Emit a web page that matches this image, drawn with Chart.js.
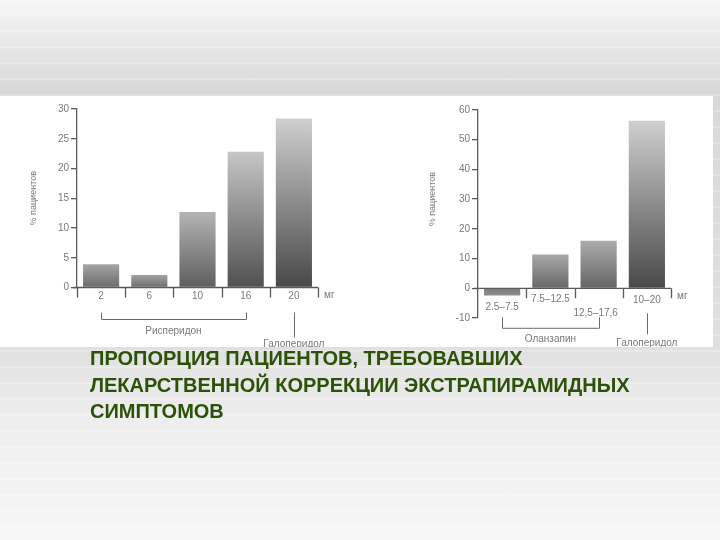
<!DOCTYPE html>
<html lang="ru">
<head>
<meta charset="utf-8">
<script src="https://cdn.jsdelivr.net/npm/chart.js@4/dist/chart.umd.min.js"></script>
<style>
  html, body { margin: 0; padding: 0; }
  body {
    width: 720px; height: 540px; position: relative; overflow: hidden;
    background:
      repeating-linear-gradient(to bottom, rgba(255,255,255,0) 0px, rgba(255,255,255,0) 14px, rgba(255,255,255,0.25) 14px, rgba(255,255,255,0.25) 16px),
      linear-gradient(to bottom, #f6f6f6 0px, #d8d8d8 92px, #e0e0e0 350px, #eeeeee 420px, #f7f7f7 540px);
  }
  #panel { position: absolute; left: 0; top: 96px; width: 713px; height: 251px; background: #ffffff; }
  #c1 { position: absolute; left: 0; top: 96px; }
  #c2 { position: absolute; left: 400px; top: 96px; }
  #title {
    position: absolute; left: 90px; top: 345px; width: 625px;
    font-family: "Liberation Sans", Arial, sans-serif; font-weight: bold;
    font-size: 20px; line-height: 26.5px; color: #2b5208;
  }
</style>
</head>
<body>
<div id="panel"></div>
<canvas id="c1" width="360" height="251"></canvas>
<canvas id="c2" width="313" height="251"></canvas>
<div id="title">ПРОПОРЦИЯ ПАЦИЕНТОВ, ТРЕБОВАВШИХ<br>ЛЕКАРСТВЕННОЙ КОРРЕКЦИИ ЭКСТРАПИРАМИДНЫХ<br>СИМПТОМОВ</div>
<script>
// ---- data ----
const leftDoses = ["2", "6", "10", "16", "20"];
const leftValues = [3.9, 2.1, 12.7, 22.8, 28.4];
const leftTicks = [0, 5, 10, 15, 20, 25, 30];
const leftGroupNames = ["Рисперидон", "Галоперидол"];
const leftGroupStart = [0, 4];
const leftGroupEnd = [3, 4];

const rightDoses = ["2.5–7.5", "7.5–12.5", "12,5–17,6", "10–20"];
const rightValues = [-2.4, 11.4, 16.0, 56.4];
const rightTicks = [-10, 0, 10, 20, 30, 40, 50, 60];
const rightGroupNames = ["Оланзапин", "Галоперидол"];
const rightGroupStart = [0, 3];
const rightGroupEnd = [2, 3];

const yTitle = "% пациентов";
const unitLabel = "мг";

const FONT = "'Liberation Sans', Arial, sans-serif";
const TXT = "#7a7a7a";
const AX = "#5a5a5a";

function barFill(ctx) {
  const chart = ctx.chart;
  if (!chart.chartArea) return "#888";
  const y = chart.scales.y;
  const v = ctx.raw;
  const top = y.getPixelForValue(v), base = y.getPixelForValue(0);
  const g = chart.ctx.createLinearGradient(0, Math.min(top, base), 0, Math.max(top, base));
  if (v < 0) {
    g.addColorStop(0, "#7c7c7c"); g.addColorStop(1, "#8c8c8c");
    return g;
  }
  const frac = v / y.max;
  const t = Math.round(158 + 52 * frac), b = Math.round(112 - 42 * frac);
  g.addColorStop(0, `rgb(${t},${t},${t})`);
  g.addColorStop(1, `rgb(${b},${b},${b})`);
  return g;
}

const axisDecor = {
  id: "axisDecor",
  afterDraw(chart, args, o) {
    const c = chart.ctx, x = chart.scales.x, y = chart.scales.y;
    const y0 = y.getPixelForValue(0);
    const n = chart.data.labels.length;
    const half = (x.getPixelForValue(1) - x.getPixelForValue(0)) / 2;
    c.save();
    c.strokeStyle = AX; c.lineWidth = 1.3;
    c.beginPath();
    c.moveTo(chart.chartArea.left - 4, y0); c.lineTo(chart.chartArea.right, y0);
    for (let i = 0; i <= n; i++) {
      if (i === 0 && o.skipFirstTick) continue;
      const px = Math.round(x.getPixelForValue(0) - half + i * 2 * half) + 0.5;
      c.moveTo(px, y0); c.lineTo(px, y0 + 10);
    }
    c.stroke();
    c.fillStyle = TXT; c.font = "10px " + FONT; c.textAlign = "center"; c.textBaseline = "middle";
    chart.data.labels.forEach((lab, i) => {
      c.fillText(lab, x.getPixelForValue(i) + (o.labelDx[i] || 0), y0 + o.labelDy[i]);
    });
    c.textAlign = "left";
    c.fillText(unitLabel, chart.chartArea.right + 6, y0 + 8);
    c.save();
    c.translate(o.titleX, (chart.chartArea.top + y0) / 2);
    c.rotate(-Math.PI / 2);
    c.textAlign = "center"; c.font = "9px " + FONT;
    c.fillText(yTitle, 0, 0);
    c.restore();
    c.strokeStyle = "#6a6a6a"; c.lineWidth = 1;
    o.groups.names.forEach((name, k) => {
      const a = x.getPixelForValue(o.groups.start[k]);
      const b = x.getPixelForValue(o.groups.end[k]);
      c.beginPath();
      if (a === b) {
        const px = Math.round(a) + 0.5;
        c.moveTo(px, y0 + o.singleTop); c.lineTo(px, y0 + o.singleBottom);
        c.stroke();
        c.textAlign = "center";
        c.fillText(name, a, y0 + o.singleLabel);
      } else {
        const pa = Math.round(a) + 0.5, pb = Math.round(b) + 0.5;
        c.moveTo(pa, y0 + o.bracketTop); c.lineTo(pa, y0 + o.bracketY);
        c.lineTo(pb, y0 + o.bracketY); c.lineTo(pb, y0 + o.bracketTop);
        c.stroke();
        c.textAlign = "center";
        c.fillText(name, (a + b) / 2, y0 + o.bracketLabel);
      }
    });
    c.restore();
  }
};

function makeChart(id, labels, values, ticks, pad, yWidth, decor) {
  return new Chart(document.getElementById(id), {
    type: "bar",
    data: {
      labels: labels,
      datasets: [{ data: values, backgroundColor: barFill, borderWidth: 0,
                   barPercentage: 0.75, categoryPercentage: 1 }]
    },
    options: {
      responsive: false, animation: false, devicePixelRatio: 1,
      layout: { padding: pad },
      plugins: { legend: { display: false }, tooltip: { enabled: false }, axisDecor: decor },
      scales: {
        x: { display: false },
        y: {
          min: ticks[0], max: ticks[ticks.length - 1],
          afterBuildTicks: s => { s.ticks = ticks.map(v => ({ value: v })); },
          afterFit: s => { s.width = yWidth; },
          border: { display: true, color: AX, width: 1.3 },
          grid: { drawOnChartArea: false, drawTicks: true, tickLength: 6, color: AX, lineWidth: 1.3 },
          ticks: { color: TXT, font: { size: 10, family: FONT }, padding: 2 }
        }
      }
    },
    plugins: [axisDecor]
  });
}

makeChart("c1", leftDoses, leftValues, leftTicks,
  { left: 0, top: 13, right: 42, bottom: 59.5 }, 77,
  { labelDy: [9, 9, 9, 9, 9], labelDx: [], skipFirstTick: false, titleX: 34,
    groups: { names: leftGroupNames, start: leftGroupStart, end: leftGroupEnd },
    bracketTop: 25, bracketY: 32, bracketLabel: 44,
    singleTop: 25, singleBottom: 50, singleLabel: 57 });

makeChart("c2", rightDoses, rightValues, rightTicks,
  { left: 0, top: 14, right: 42, bottom: 29 }, 78,
  { labelDy: [19, 11, 25, 12], labelDx: [0, 0, -3, 0], skipFirstTick: true, titleX: 33,
    groups: { names: rightGroupNames, start: rightGroupStart, end: rightGroupEnd },
    bracketTop: 29, bracketY: 40, bracketLabel: 51,
    singleTop: 25, singleBottom: 46, singleLabel: 55 });
</script>
</body>
</html>
